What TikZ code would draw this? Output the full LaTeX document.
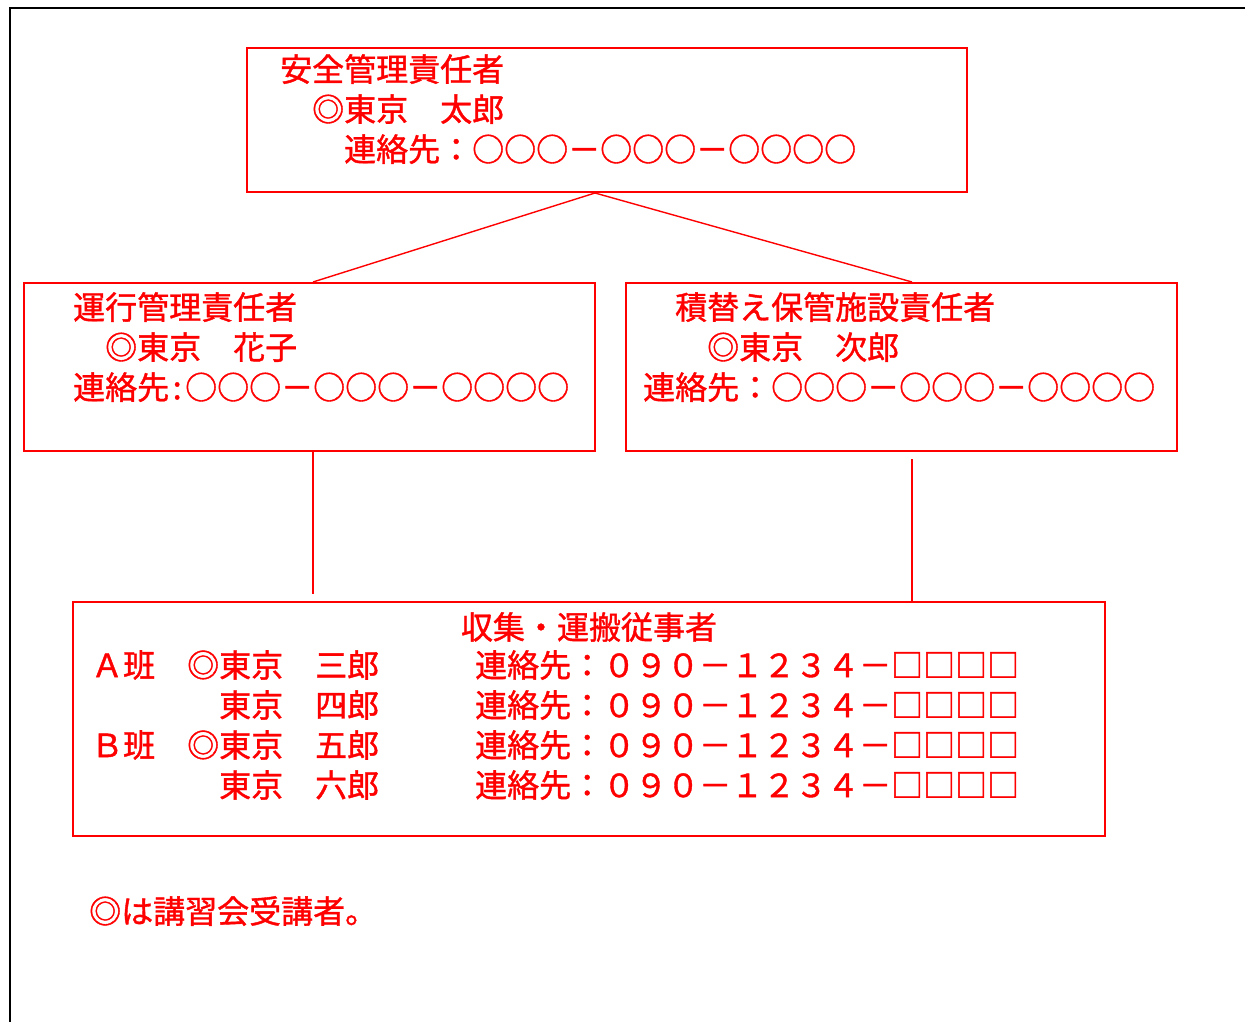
\documentclass[tikz,border=0pt]{standalone}
\usepackage{fontspec}
\setmainfont{Noto Sans CJK JP}[FakeBold=1.2]
\usetikzlibrary{positioning}

\begin{document}
\begin{tikzpicture}[x=1pt, y=-1pt,
    box/.style={draw=red, line width=2pt, inner sep=0pt},
    memo/.style={text=red, inner sep=0pt, align=left, font=\fontsize{32}{40}\selectfont},
    link/.style={draw=red, line width=1.4pt}]
  \useasboundingbox (0,0) rectangle (1247,1022);
  % Frame
  \draw[line width=2.4pt] (1245,8) -- (10,8) -- (10,1022);

  % Boxes
  \node[box, minimum width=720pt, minimum height=144pt] (chief) at (607,120) {};
  \node[box, minimum width=571pt, minimum height=168pt] (ops) at (309.5,367) {};
  \node[box, minimum width=551pt, minimum height=168pt] (store) at (901.5,367) {};
  \node[box, minimum width=1032pt, minimum height=234pt] (crew) at (589,719) {};

  \node[memo, below right=7pt and 34pt of chief.north west] (chiefText)
    {安全管理責任者\\　◎東京　太郎\\　　連絡先：○○○－○○○－○○○○};
  \node[memo, below right=10pt and 50pt of ops.north west] (opsText)
    {運行管理責任者\\　◎東京　花子\\連絡先\makebox[16pt]{:}○○○－○○○－○○○○};
  \node[memo, below right=10pt and 18pt of store.north west] (storeText)
    {　積替え保管施設責任者\\　　◎東京　次郎\\連絡先：○○○－○○○－○○○○};
  \node[memo, below=11pt of crew.north] (crewTitle) {収集・運搬従事者};
  \node[memo, below right=49pt and 19pt of crew.north west] (crewText)
    {Ａ班　◎東京　三郎　　　連絡先：０９０－１２３４－□□□□\\
     　　　　東京　四郎　　　連絡先：０９０－１２３４－□□□□\\
     Ｂ班　◎東京　五郎　　　連絡先：０９０－１２３４－□□□□\\
     　　　　東京　六郎　　　連絡先：０９０－１２３４－□□□□};
  \node[memo, below right=59pt and 17pt of crew.south west] (note) {◎は講習会受講者。};

  % Lines
  \draw[link] ([xshift=-12pt]chief.south) -- ([xshift=3.5pt]ops.north);
  \draw[link] ([xshift=-12pt]chief.south) -- ([xshift=10.5pt]store.north);
  \draw[link] ([xshift=3.5pt]ops.south) -- ([xshift=-276pt,yshift=7pt]crew.north);
  \draw[link] ([xshift=10.5pt,yshift=-7pt]store.south) -- ([xshift=323pt]crew.north);
\end{tikzpicture}
\end{document}
